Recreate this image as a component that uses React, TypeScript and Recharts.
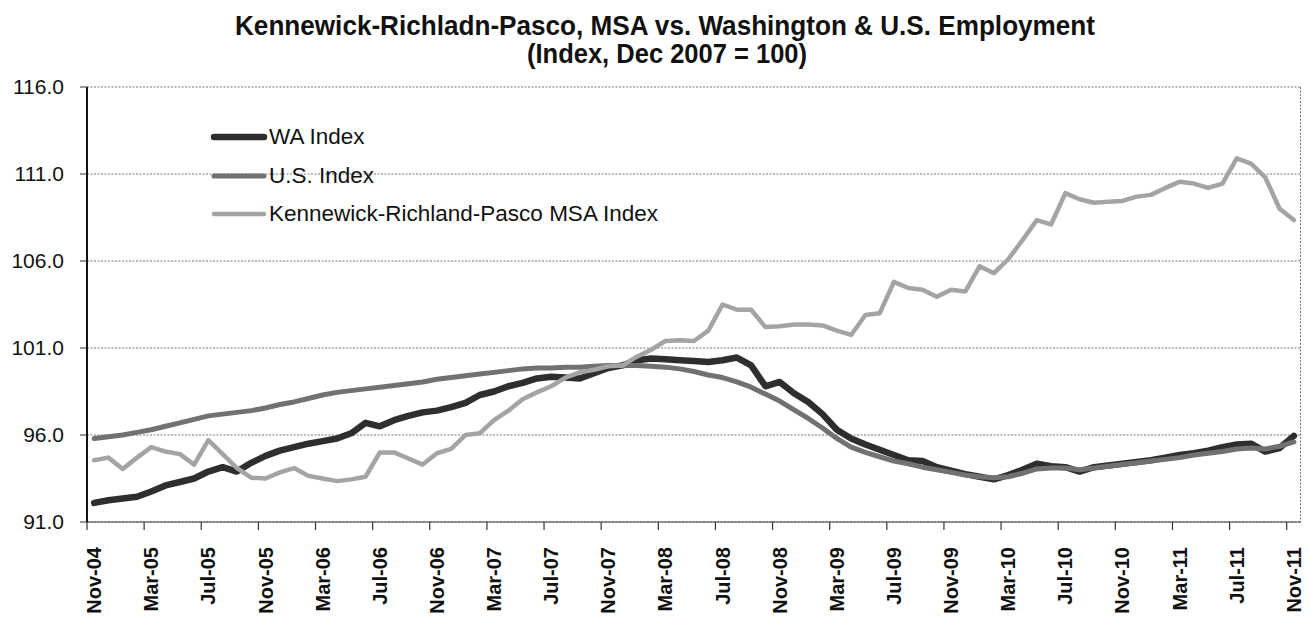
import React from 'react';
import { LineChart, Line, XAxis, YAxis, CartesianGrid, Legend } from 'recharts';

const months = [
  'Nov-04','Dec-04','Jan-05','Feb-05','Mar-05','Apr-05','May-05','Jun-05','Jul-05','Aug-05','Sep-05','Oct-05',
  'Nov-05','Dec-05','Jan-06','Feb-06','Mar-06','Apr-06','May-06','Jun-06','Jul-06','Aug-06','Sep-06','Oct-06',
  'Nov-06','Dec-06','Jan-07','Feb-07','Mar-07','Apr-07','May-07','Jun-07','Jul-07','Aug-07','Sep-07','Oct-07',
  'Nov-07','Dec-07','Jan-08','Feb-08','Mar-08','Apr-08','May-08','Jun-08','Jul-08','Aug-08','Sep-08','Oct-08',
  'Nov-08','Dec-08','Jan-09','Feb-09','Mar-09','Apr-09','May-09','Jun-09','Jul-09','Aug-09','Sep-09','Oct-09',
  'Nov-09','Dec-09','Jan-10','Feb-10','Mar-10','Apr-10','May-10','Jun-10','Jul-10','Aug-10','Sep-10','Oct-10',
  'Nov-10','Dec-10','Jan-11','Feb-11','Mar-11','Apr-11','May-11','Jun-11','Jul-11','Aug-11','Sep-11','Oct-11',
  'Nov-11',
];

const waIndex = [
  92.1, 92.25, 92.35, 92.45, 92.75, 93.1, 93.3, 93.5, 93.9, 94.15, 93.9, 94.4,
  94.8, 95.1, 95.3, 95.5, 95.65, 95.8, 96.1, 96.7, 96.5, 96.85, 97.1, 97.3,
  97.4, 97.6, 97.85, 98.3, 98.5, 98.8, 99.0, 99.25, 99.35, 99.3, 99.25, 99.55,
  99.85, 100.0, 100.3, 100.4, 100.35, 100.3, 100.25, 100.2, 100.3, 100.45, 100.0, 98.8,
  99.05, 98.4, 97.9, 97.2, 96.3, 95.8, 95.45, 95.15, 94.85, 94.55, 94.5, 94.15,
  93.95, 93.75, 93.6, 93.45, 93.7, 94.0, 94.35, 94.2, 94.15, 93.9, 94.15, 94.25,
  94.35, 94.45, 94.55, 94.7, 94.85, 94.95, 95.1, 95.3, 95.45, 95.5, 95.05, 95.25,
  95.95,
];

const usIndex = [
  95.8, 95.9, 96.0, 96.15, 96.3, 96.5, 96.7, 96.9, 97.1, 97.2, 97.3, 97.4,
  97.55, 97.75, 97.9, 98.1, 98.3, 98.45, 98.55, 98.65, 98.75, 98.85, 98.95, 99.05,
  99.2, 99.3, 99.4, 99.5, 99.6, 99.7, 99.8, 99.85, 99.85, 99.9, 99.9, 99.95,
  100.0, 100.0, 100.0, 99.95, 99.9, 99.8, 99.65, 99.45, 99.3, 99.05, 98.75, 98.35,
  97.95, 97.45, 96.95, 96.4, 95.8, 95.3, 95.0, 94.75, 94.5, 94.35, 94.15, 94.0,
  93.85, 93.7, 93.6, 93.55, 93.6, 93.8, 94.05, 94.1, 94.1, 94.0, 94.1, 94.2,
  94.3, 94.4, 94.5, 94.6, 94.7, 94.85, 94.95, 95.05, 95.2, 95.25, 95.2, 95.35,
  95.6,
];

const krpIndex = [
  94.55, 94.7, 94.05, 94.7, 95.3, 95.05, 94.9, 94.3, 95.7, 94.9, 94.1, 93.55,
  93.5, 93.85, 94.1, 93.65, 93.5, 93.35, 93.45, 93.6, 95.0, 95.0, 94.65, 94.3,
  94.95, 95.2, 96.0, 96.1, 96.85, 97.4, 98.05, 98.45, 98.8, 99.3, 99.6, 99.75,
  99.95, 100.0, 100.5, 100.9, 101.4, 101.45, 101.4, 102.0, 103.5, 103.2, 103.2, 102.2,
  102.25, 102.35, 102.35, 102.3, 102.0, 101.75, 102.9, 103.0, 104.8, 104.45, 104.35, 103.95,
  104.35, 104.25, 105.7, 105.3, 106.1, 107.2, 108.35, 108.1, 109.9, 109.55, 109.35, 109.4,
  109.45, 109.7, 109.8, 110.2, 110.55, 110.45, 110.2, 110.45, 111.9, 111.6, 110.8, 109.0,
  108.35,
];

const yTicks = [91, 96, 101, 106, 111, 116];

const seriesKeys = ['wa', 'us', 'krp'];
const seriesNames = ['WA Index', 'U.S. Index', 'Kennewick-Richland-Pasco MSA Index'];
const titleLines = [
  'Kennewick-Richladn-Pasco, MSA vs. Washington & U.S. Employment',
  '(Index, Dec 2007 = 100)',
];

const data = months.map((m, i) => ({
  month: m,
  wa: waIndex[i],
  us: usIndex[i],
  krp: krpIndex[i],
}));

const styles: Record<string, { color: string; width: number }> = {
  wa: { color: '#2e2e2e', width: 6.5 },
  us: { color: '#717171', width: 5 },
  krp: { color: '#a4a4a4', width: 4.5 },
};

const CHART_W = 1309;
const CHART_H = 620;
const PAD = 7.14;

const SANS = '"Liberation Sans", Arial, sans-serif';
const NARROW = '"Liberation Sans Narrow", "Arial Narrow", "Liberation Sans", Arial, sans-serif';

const XTick = (props: any) => {
  const { x, y, payload } = props;
  const ty = y + 25;
  return (
    <g>
      <line x1={x - PAD} y1={y} x2={x - PAD} y2={y + 8} stroke="#333" strokeWidth={1.2} />
      <text
        x={x}
        y={ty}
        transform={`rotate(-90, ${x}, ${ty})`}
        textAnchor="end"
        dominantBaseline="central"
        fontFamily={SANS}
        fontWeight="bold"
        fontSize={20}
        fill="#111"
      >
        {payload.value}
      </text>
    </g>
  );
};

const renderLegend = () => {
  return (
    <div style={{ fontFamily: SANS, fontSize: 22.5, color: '#111' }}>
      {seriesKeys.map((k, i) => {
        const st = styles[k];
        return (
          <div key={k} style={{ display: 'flex', alignItems: 'center', height: 38.5 }}>
            <svg width={58} height={12} style={{ display: 'block', flexShrink: 0 }}>
              <line
                x1={4}
                y1={6}
                x2={54}
                y2={6}
                stroke={st.color}
                strokeWidth={st.width}
                strokeLinecap="round"
              />
            </svg>
            <span style={{ marginLeft: 1, whiteSpace: 'nowrap' }}>{seriesNames[i]}</span>
          </div>
        );
      })}
    </div>
  );
};

export default function App() {
  return (
    <div style={{ position: 'absolute', left: 0, top: 0, width: CHART_W, height: CHART_H }}>
      <LineChart
        width={CHART_W}
        height={CHART_H}
        data={data}
        margin={{ top: 87, right: 8, bottom: 8, left: 0 }}
      >
        <CartesianGrid
          stroke="#777"
          strokeDasharray="2 1.5"
          vertical={true}
          verticalCoordinatesGenerator={({ offset }: any) => [offset.left + offset.width - 0.5]}
        />
        <XAxis
          dataKey="month"
          interval={3}
          padding={{ left: PAD, right: PAD }}
          tickLine={false}
          tickSize={0}
          tickMargin={0}
          height={90}
          axisLine={{ stroke: '#444', strokeWidth: 1.2 }}
          tick={<XTick />}
        />
        <YAxis
          domain={[91, 116]}
          ticks={yTicks}
          interval={0}
          width={87}
          tickSize={7}
          tickMargin={16}
          tickFormatter={(v: number) => v.toFixed(1)}
          axisLine={{ stroke: '#111', strokeWidth: 2 }}
          tickLine={{ stroke: '#333' }}
          tick={{ fontSize: 21, fontFamily: SANS, fill: '#111' }}
        />
        <Legend
          layout="vertical"
          align="center"
          verticalAlign="middle"
          wrapperStyle={{ top: 118, left: 210, width: 460 }}
          content={renderLegend}
        />
        <Line
          type="linear"
          dataKey="wa"
          name={seriesNames[0]}
          stroke={styles.wa.color}
          strokeWidth={styles.wa.width}
          strokeLinejoin="round"
          strokeLinecap="round"
          dot={false}
          activeDot={false}
          isAnimationActive={false}
        />
        <Line
          type="linear"
          dataKey="us"
          name={seriesNames[1]}
          stroke={styles.us.color}
          strokeWidth={styles.us.width}
          strokeLinejoin="round"
          strokeLinecap="round"
          dot={false}
          activeDot={false}
          isAnimationActive={false}
        />
        <Line
          type="linear"
          dataKey="krp"
          name={seriesNames[2]}
          stroke={styles.krp.color}
          strokeWidth={styles.krp.width}
          strokeLinejoin="round"
          strokeLinecap="round"
          dot={false}
          activeDot={false}
          isAnimationActive={false}
        />
      </LineChart>
      <svg
        width={CHART_W}
        height={75}
        style={{ position: 'absolute', left: 0, top: 0, pointerEvents: 'none' }}
      >
        <text
          x={665}
          y={35}
          textAnchor="middle"
          fontFamily={NARROW}
          fontWeight="bold"
          fontSize={28}
          fill="#111"
          textLength={860}
          lengthAdjust="spacingAndGlyphs"
        >
          {titleLines[0]}
        </text>
        <text
          x={667}
          y={63}
          textAnchor="middle"
          fontFamily={NARROW}
          fontWeight="bold"
          fontSize={28}
          fill="#111"
          textLength={280}
          lengthAdjust="spacingAndGlyphs"
        >
          {titleLines[1]}
        </text>
      </svg>
    </div>
  );
}
